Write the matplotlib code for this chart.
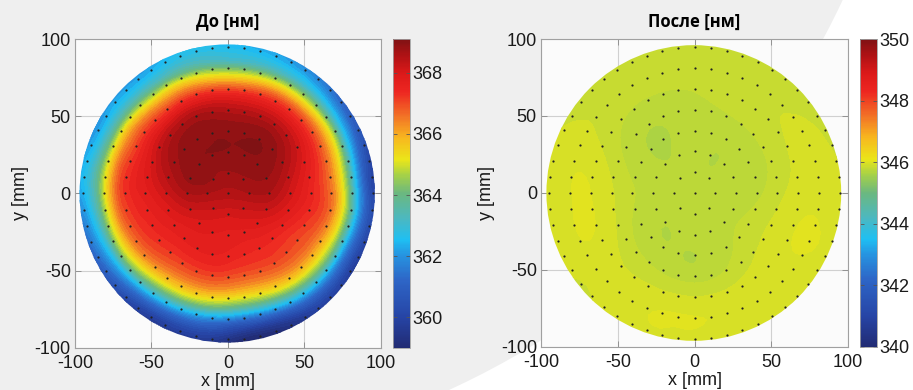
import numpy as np
import matplotlib
matplotlib.use("Agg")
import matplotlib.pyplot as plt
import matplotlib.tri as mtri
from matplotlib.patches import Circle, Ellipse
from matplotlib.colors import Normalize, LinearSegmentedColormap
from matplotlib.cm import ScalarMappable

plt.rcParams['font.family'] = ['Liberation Sans', 'DejaVu Sans']
plt.rcParams['font.size'] = 13
plt.rcParams['axes.unicode_minus'] = False

# measurement points (rings, points per ring)
point_ring_radii = [0, 13.5, 27, 40.5, 54, 67.5, 81, 94.5]
point_ring_counts = [1, 8, 16, 24, 32, 40, 48, 56]

# thickness map: value at centre + rings x 12 azimuths (0, 30, ... 330 deg)
field_angles = [0, 30, 60, 90, 120, 150, 180, 210, 240, 270, 300, 330]

before_radii = [15, 30, 45, 58, 68, 76, 84, 91, 98, 106]
before_center = 368.5
before_values = [
    [368.6, 368.75, 368.8, 368.8, 368.8, 368.8, 368.6, 368.3, 368.1, 368.0, 368.1, 368.3],
    [368.5, 368.85, 369.0, 369.0, 369.0, 368.9, 368.5, 368.0, 367.8, 367.7, 367.7, 368.0],
    [367.9, 368.5, 368.9, 368.85, 368.9, 368.6, 368.0, 367.6, 367.5, 367.4, 367.3, 367.4],
    [367.3, 367.8, 368.2, 368.2, 368.3, 367.9, 367.6, 367.2, 366.8, 366.6, 366.7, 366.9],
    [366.5, 366.8, 367.1, 366.9, 367.0, 367.0, 367.2, 366.5, 365.7, 365.2, 365.6, 366.0],
    [365.0, 365.4, 365.6, 365.3, 365.7, 366.0, 366.1, 365.2, 364.0, 363.3, 363.8, 364.5],
    [362.6, 363.0, 363.5, 363.5, 363.7, 363.9, 364.1, 363.0, 361.8, 361.0, 361.5, 362.0],
    [360.7, 361.4, 362.4, 362.8, 362.7, 362.6, 362.8, 361.6, 360.3, 359.8, 360.0, 360.4],
    [359.9, 360.6, 361.8, 362.4, 362.2, 361.9, 362.1, 360.7, 359.5, 359.1, 359.3, 359.6],
    [359.4, 360.0, 361.2, 361.9, 361.7, 361.4, 361.5, 360.1, 359.0, 358.8, 358.9, 359.2],
]

after_radii = [30, 55, 80, 98, 106]
after_center = 345.72
after_values = [
    [345.74, 345.72, 345.70, 345.72, 345.70, 345.72, 345.76, 345.72, 345.70, 345.72, 345.76, 345.78],
    [345.87, 345.82, 345.80, 345.76, 345.72, 345.80, 345.92, 345.87, 345.80, 345.76, 345.84, 345.92],
    [345.97, 345.92, 345.87, 345.84, 345.84, 345.92, 346.00, 345.97, 345.97, 346.00, 345.97, 346.00],
    [345.92, 345.88, 345.84, 345.82, 345.84, 345.88, 345.92, 345.92, 345.96, 345.96, 345.92, 345.96],
    [345.92, 345.88, 345.84, 345.82, 345.84, 345.88, 345.92, 345.92, 345.96, 345.96, 345.92, 345.96],
]

titles = ['До [нм]', 'После [нм]']
clims = [(359.0, 369.1), (340.0, 350.0)]
cbar_ticks = [[360, 362, 364, 366, 368], [340, 342, 344, 346, 348, 350]]
axis_ticks = [-100, -50, 0, 50, 100]

# jet as it looks in the (slightly washed out) picture
jet_faded = LinearSegmentedColormap.from_list('jet_faded', [
    (0.00, (0.13, 0.17, 0.45)),
    (0.10, (0.15, 0.27, 0.65)),
    (0.22, (0.18, 0.40, 0.78)),
    (0.30, (0.15, 0.58, 0.88)),
    (0.35, (0.12, 0.75, 0.95)),
    (0.42, (0.30, 0.72, 0.75)),
    (0.50, (0.42, 0.72, 0.50)),
    (0.56, (0.65, 0.82, 0.28)),
    (0.61, (0.92, 0.90, 0.10)),
    (0.68, (0.97, 0.72, 0.12)),
    (0.75, (0.95, 0.45, 0.15)),
    (0.83, (0.93, 0.15, 0.13)),
    (0.89, (0.86, 0.10, 0.10)),
    (0.95, (0.68, 0.07, 0.08)),
    (1.00, (0.50, 0.07, 0.08)),
])


def field_points(center, radii, values):
    xs, ys, zs = [0.0], [0.0], [center]
    for r, row in zip(radii, values):
        for a, v in zip(field_angles, row):
            xs.append(r * np.cos(np.radians(a)))
            ys.append(r * np.sin(np.radians(a)))
            zs.append(v)
    return np.array(xs), np.array(ys), np.array(zs)


def measure_points():
    xs, ys = [], []
    for r, n in zip(point_ring_radii, point_ring_counts):
        for k in range(n):
            a = 2 * np.pi * k / n
            xs.append(r * np.cos(a))
            ys.append(r * np.sin(a))
    return xs, ys


fig = plt.figure(figsize=(9.13, 3.9), dpi=100)
fig.patch.set_facecolor('white')
# grey slide background with a large round edge
fig.add_artist(Ellipse((114 / 913, 732 / 390), 2 * 805 / 913, 2 * 805 / 390,
                       transform=fig.transFigure, facecolor='#efefef', edgecolor='none', zorder=-10))

ax_pos = [[0.0821, 0.1077, 0.3352, 0.7923], [0.5926, 0.1103, 0.3363, 0.7897]]
cb_pos = [[0.4304, 0.1077, 0.0186, 0.7923], [0.9420, 0.1103, 0.0186, 0.7897]]
fields = [(before_center, before_radii, before_values), (after_center, after_radii, after_values)]
disk_r = [96.5, 96.0]

px, py = measure_points()

for i in range(2):
    ax = fig.add_axes(ax_pos[i])
    cax = fig.add_axes(cb_pos[i])
    norm = Normalize(*clims[i])

    x, y, z = field_points(*fields[i])
    tri = mtri.Triangulation(x, y)
    interp = mtri.CubicTriInterpolator(tri, z)
    tri_f, z_f = mtri.UniformTriRefiner(tri).refine_field(z, interp, subdiv=3)

    step = 0.2 if i == 0 else 0.1
    levels = np.arange(clims[i][0] - 1, clims[i][1] + 1, step)
    cs = ax.tricontourf(tri_f, z_f, levels=levels, cmap=jet_faded, norm=norm)
    disk = Circle((-0.5, 0), disk_r[i], transform=ax.transData)
    cs.set_clip_path(disk)

    ax.plot(px, py, 'o', color='#222222', markersize=1.6, markeredgewidth=0)

    ax.set_xlim(-100, 100)
    ax.set_ylim(-100, 100)
    ax.set_xticks(axis_ticks)
    ax.set_yticks(axis_ticks)
    ax.set_facecolor('#fbfbfb')
    ax.set_axisbelow(True)
    ax.grid(color='#d0d0d0', linewidth=0.8)
    ax.tick_params(direction='in', top=True, right=True, length=4, width=0.6,
                   color='#888888', labelcolor='#1a1a1a', labelsize=13)
    ax.tick_params(axis='x', pad=5)
    ax.tick_params(axis='y', pad=3)
    for s in ax.spines.values():
        s.set_color('#a0a0a0')
        s.set_linewidth(0.8)
    ax.set_xlabel('x [mm]', fontsize=13, labelpad=1, color='#1a1a1a')
    ax.set_ylabel('y [mm]', fontsize=13, labelpad=4, color='#1a1a1a')
    ax.set_title(titles[i], fontsize=12, fontweight='bold', family='Open Sans', pad=9)

    cb = fig.colorbar(ScalarMappable(norm=norm, cmap=jet_faded), cax=cax, ticks=cbar_ticks[i])
    cb.outline.set_edgecolor('#a0a0a0')
    cb.outline.set_linewidth(0.6)
    cax.tick_params(direction='in', left=True, right=True, length=3, width=0.6,
                    color='#555555', labelsize=13, pad=2, labelcolor='#1a1a1a')

fig.savefig('out.png', dpi=100)
